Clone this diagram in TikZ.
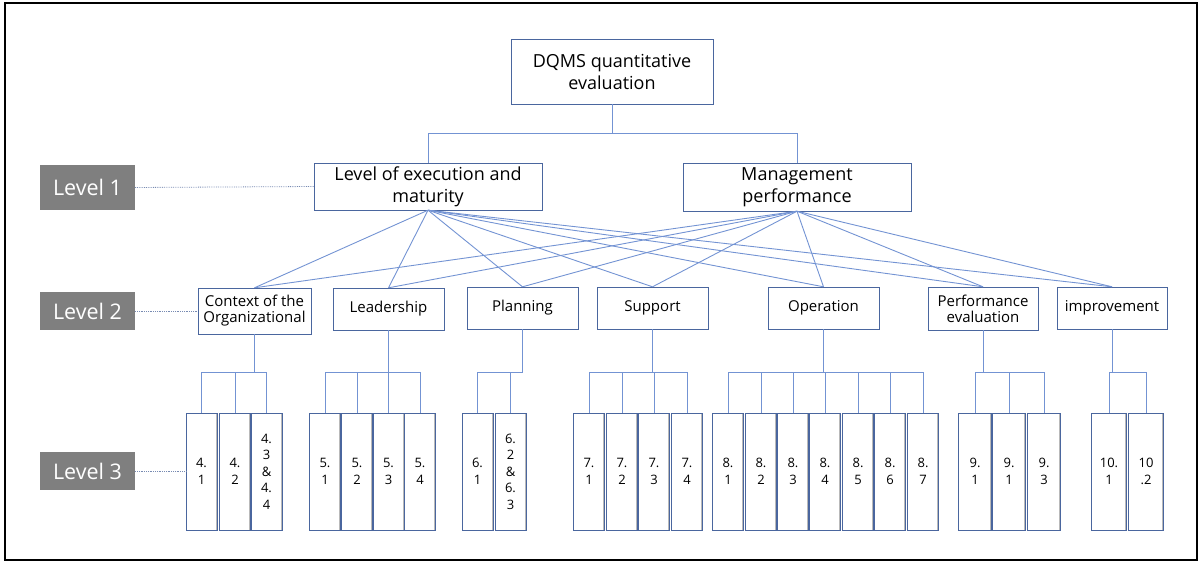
\documentclass[tikz,border=0pt]{standalone}
\usepackage{fontspec}
\setmainfont{Open Sans}
\definecolor{boxblue}{HTML}{4A669E}
\definecolor{linkblue}{HTML}{7393D3}
\definecolor{taggray}{HTML}{7F7F7F}
\begin{document}
\begin{tikzpicture}[x=1pt,y=-1pt,
  top node/.style={draw=boxblue,fill=white,align=center,inner sep=1pt,font=\fontsize{18}{22}\selectfont},
  mid node/.style={draw=boxblue,align=center,inner sep=1pt,minimum width=111,minimum height=42,font=\fontsize{15}{16}\selectfont},
  leaf node/.style={draw=boxblue,align=center,inner sep=0pt,minimum width=31,minimum height=117,font=\fontsize{13}{16.5}\selectfont,
    path picture={\draw[gray!55,line width=2.5pt] (path picture bounding box.north east) -- (path picture bounding box.south east);}},
  tag node/.style={fill=taggray,text=white,minimum width=95,minimum height=38,inner sep=0pt,font=\fontsize{21.5}{24}\selectfont},
  link/.style={draw=linkblue,line width=0.9pt},
  guide/.style={draw=linkblue!60!gray,densely dotted,line width=0.8pt}]

  \useasboundingbox (0,0) rectangle (1202,562);
  \draw[line width=1.5pt] (5,3) rectangle (1197,560);

  % top and level 1
  \node[top node,minimum width=202,minimum height=65] (dqms) at (612,71.5) {DQMS quantitative\\evaluation};
  \node[top node,minimum width=228,minimum height=47] (exec) at (428,186.5) {Level of execution and\\maturity};
  \node[top node,minimum width=228,minimum height=48] (mgmt) at (797,187) {Management\\performance};

  % level 2
  \node[mid node,minimum width=113,minimum height=46] (ctx) at (254.5,311) {Context of the\\Organizational};
  \node[mid node] (lead) at (388.5,309) {Leadership};
  \node[mid node] (plan) at (522.5,308) {Planning};
  \node[mid node] (supp) at (652.5,308) {Support};
  \node[mid node] (oper) at (823.5,308) {Operation};
  \node[mid node,minimum width=110,minimum height=43] (perf) at (983,308.5) {Performance\\evaluation};
  \node[mid node,minimum width=110] (impr) at (1112,308) {improvement};

  % level 3
  \node[leaf node] (l41) at (201.5,471.5) {4.\\1};
  \node[leaf node] (l42) at (235,471.5) {4.\\2};
  \node[leaf node] (l43) at (266.5,471.5) {4.\\3\\\&\\4.\\4};
  \node[leaf node] (l51) at (325,471.5) {5.\\1};
  \node[leaf node] (l52) at (357,471.5) {5.\\2};
  \node[leaf node] (l53) at (388.5,471.5) {5.\\3};
  \node[leaf node] (l54) at (420,471.5) {5.\\4};
  \node[leaf node] (l61) at (477.5,471.5) {6.\\1};
  \node[leaf node] (l62) at (510.5,471.5) {6.\\2\\\&\\6.\\3};
  \node[leaf node] (l71) at (589,471.5) {7.\\1};
  \node[leaf node] (l72) at (622,471.5) {7.\\2};
  \node[leaf node] (l73) at (654,471.5) {7.\\3};
  \node[leaf node] (l74) at (687,471.5) {7.\\4};
  \node[leaf node] (l81) at (728,471.5) {8.\\1};
  \node[leaf node] (l82) at (761,471.5) {8.\\2};
  \node[leaf node] (l83) at (793,471.5) {8.\\3};
  \node[leaf node] (l84) at (825,471.5) {8.\\4};
  \node[leaf node] (l85) at (858,471.5) {8.\\5};
  \node[leaf node] (l86) at (890,471.5) {8.\\6};
  \node[leaf node] (l87) at (923,471.5) {8.\\7};
  \node[leaf node,minimum width=33] (l91) at (975,471.5) {9.\\1};
  \node[leaf node,minimum width=33] (l92) at (1009,471.5) {9.\\1};
  \node[leaf node,minimum width=33] (l93) at (1044,471.5) {9.\\3};
  \node[leaf node,minimum width=35] (l101) at (1109,471.5) {10.\\1};
  \node[leaf node,minimum width=35] (l102) at (1146,471.5) {10\\.2};

  % level tags
  \node[tag node,minimum height=45] (tag1) at (87.5,187.5) {Level 1};
  \node[tag node] (tag2) at (87.5,311) {Level 2};
  \node[tag node] (tag3) at (87.5,471) {Level 3};

  \coordinate (hub) at (0,133);
  \coordinate (bar) at (0,372);

  \path[guide]
   (tag1.east) edge (exec.west)
   (tag2.east) edge (ctx.west)
   (tag3.east) edge (tag3.east -| l41.west);

  \draw[link] (dqms.south) -- (dqms.south |- hub) -| (exec.north)
   (dqms.south |- hub) -| (mgmt.north);

  \path[every edge/.style=link]
   (exec.south) edge (ctx.north)
   (exec.south) edge (lead.north)
   (exec.south) edge (plan.north)
   (exec.south) edge (supp.north)
   (exec.south) edge (oper.north)
   (exec.south) edge (perf.north)
   (exec.south) edge (impr.north)
   (mgmt.south) edge (ctx.north)
   (mgmt.south) edge (lead.north)
   (mgmt.south) edge (plan.north)
   (mgmt.south) edge (supp.north)
   (mgmt.south) edge (oper.north)
   (mgmt.south) edge (perf.north)
   (mgmt.south) edge (impr.north);

  \draw[link] (ctx.south) -- (ctx.south |- bar) -| (l41.north)
   (ctx.south |- bar) -| (l42.north) (ctx.south |- bar) -| (l43.north);
  \draw[link] (lead.south) -- (lead.south |- bar) -| (l51.north)
   (lead.south |- bar) -| (l52.north) (lead.south |- bar) -| (l53.north)
   (lead.south |- bar) -| (l54.north);
  \draw[link] (plan.south) -- (plan.south |- bar) -| (l61.north)
   (plan.south |- bar) -| (l62.north);
  \draw[link] (supp.south) -- (supp.south |- bar) -| (l71.north)
   (supp.south |- bar) -| (l72.north) (supp.south |- bar) -| (l73.north)
   (supp.south |- bar) -| (l74.north);
  \draw[link] (oper.south) -- (oper.south |- bar) -| (l81.north)
   (oper.south |- bar) -| (l82.north) (oper.south |- bar) -| (l83.north)
   (oper.south |- bar) -| (l84.north) (oper.south |- bar) -| (l85.north)
   (oper.south |- bar) -| (l86.north) (oper.south |- bar) -| (l87.north);
  \draw[link] (perf.south) -- (perf.south |- bar) -| (l91.north)
   (perf.south |- bar) -| (l92.north) (perf.south |- bar) -| (l93.north);
  \draw[link] (impr.south) -- (impr.south |- bar) -| (l101.north)
   (impr.south |- bar) -| (l102.north);
\end{tikzpicture}
\end{document}
